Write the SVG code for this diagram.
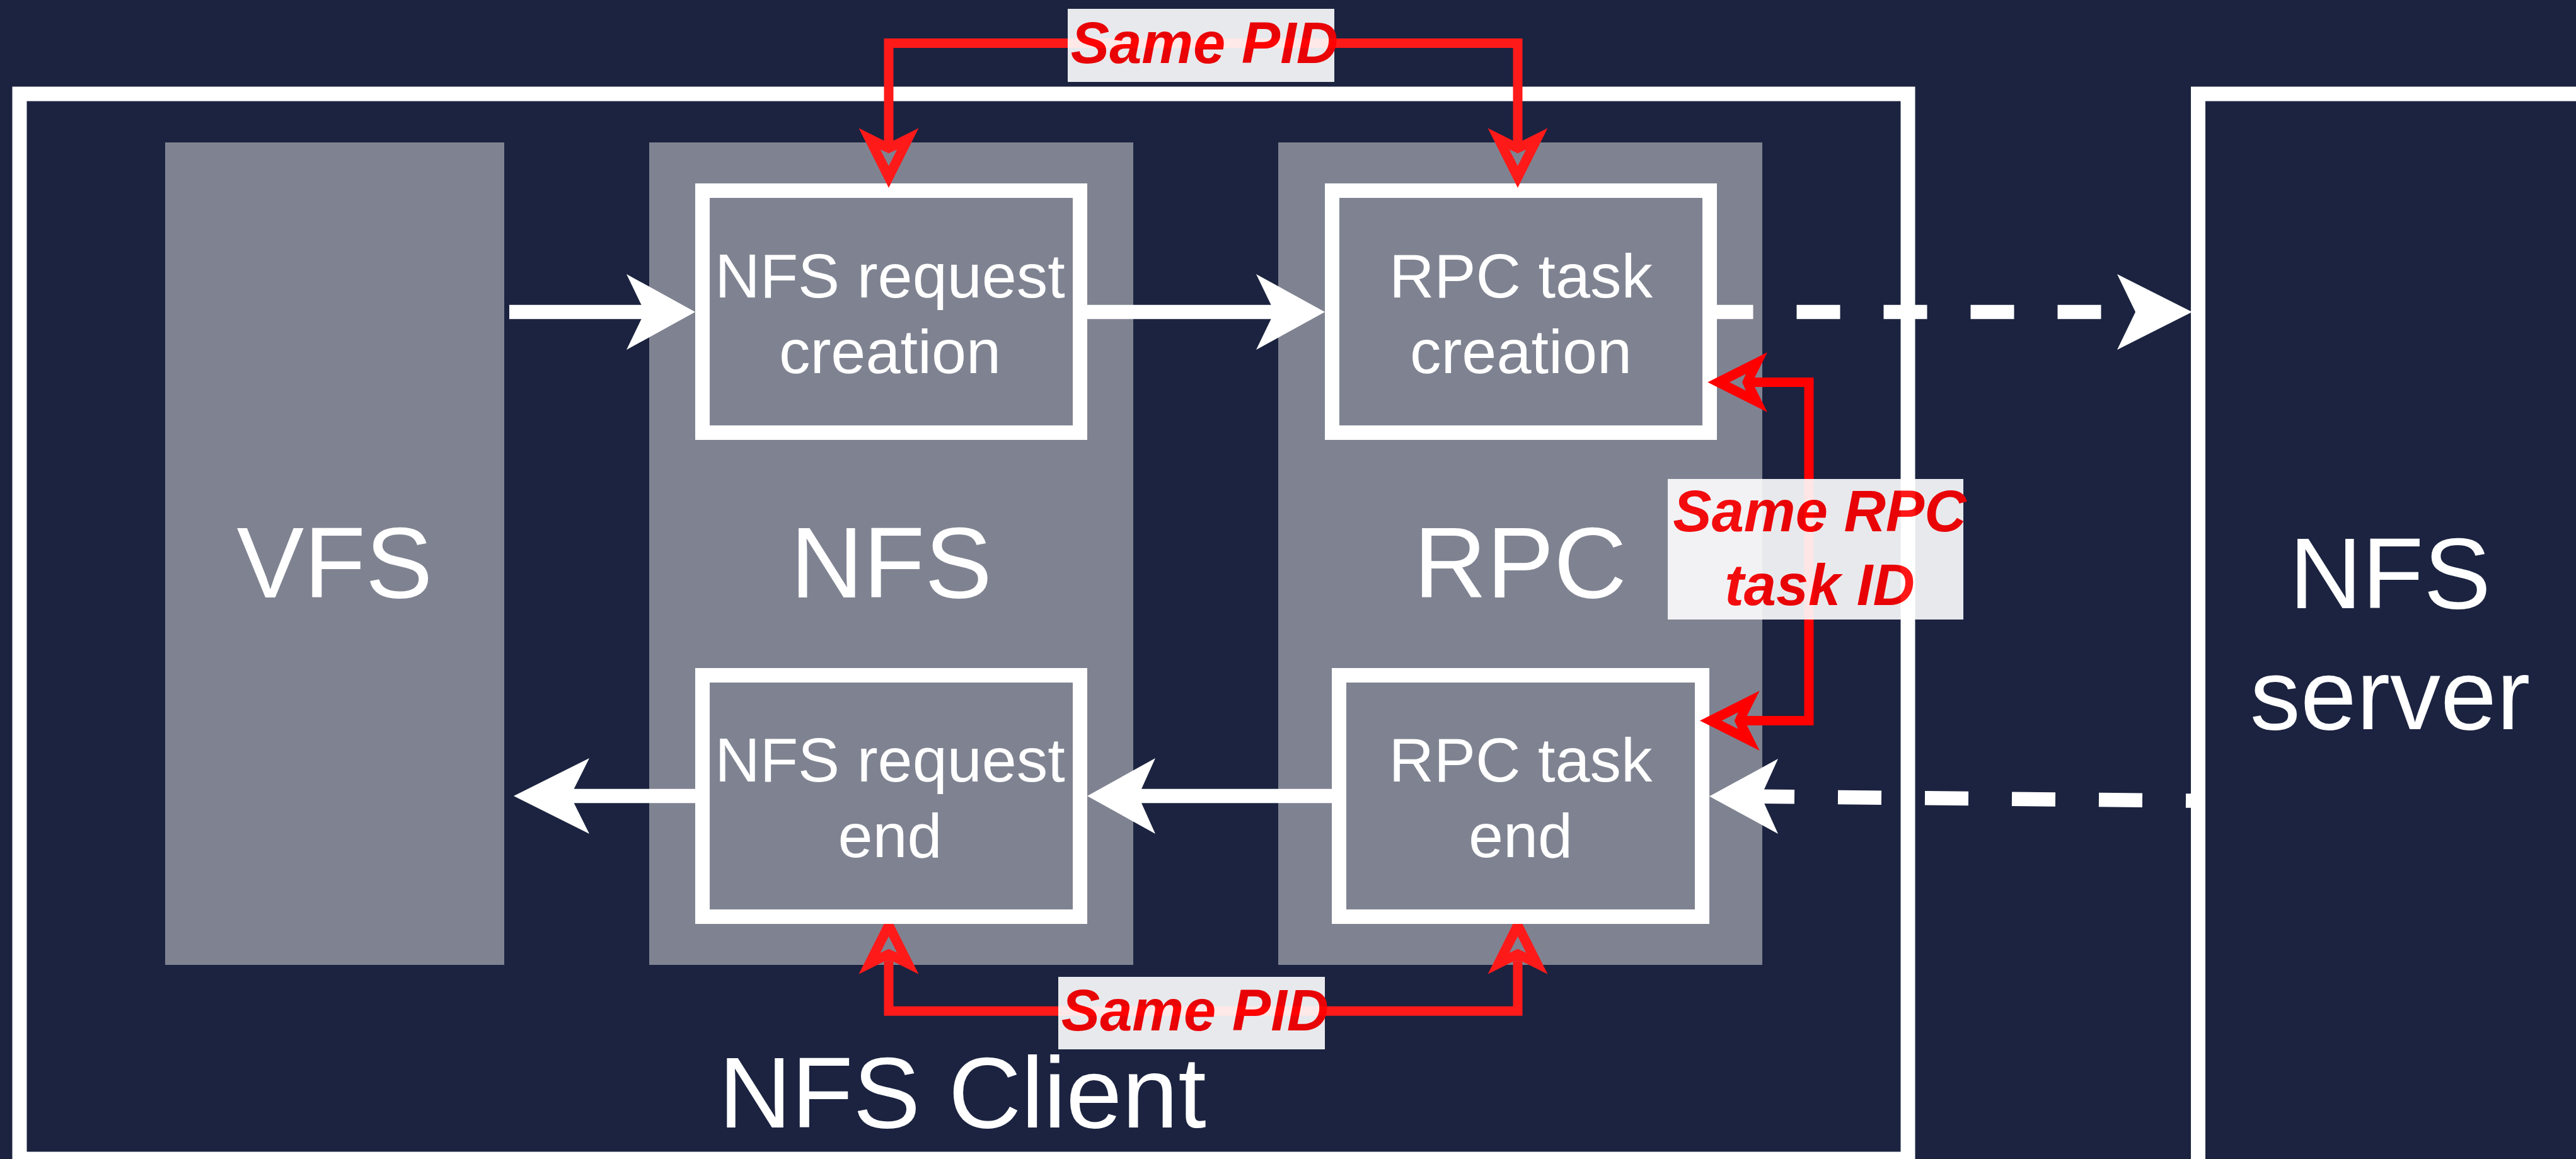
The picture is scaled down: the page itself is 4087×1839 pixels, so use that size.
<svg xmlns="http://www.w3.org/2000/svg" xmlns:xlink="http://www.w3.org/1999/xlink" width="4087" height="1839" viewBox="0 0 4087 1839">
  <style>
    .frame { fill: none; stroke: #ffffff; stroke-width: 23; }
    .layer { fill: #7f8391; }
    .big { font-family: "Liberation Sans", Arial, Helvetica, sans-serif; font-size: 160px; fill: #ffffff; text-anchor: middle; }
    .step { font-family: "Liberation Sans", Arial, Helvetica, sans-serif; font-size: 99px; fill: #ffffff; text-anchor: middle; }
    .flow { fill: none; stroke: #ffffff; stroke-width: 22.5; }
    .dash { stroke-dasharray: 69 69; }
    .head { fill: #ffffff; }
    .link { fill: none; stroke-width: 15; stroke-linejoin: miter; stroke-miterlimit: 10; }
    .tag { opacity: 0.9; }
    .tag rect { fill: #ffffff; }
    .tag text { font-family: "Liberation Sans", Arial, Helvetica, sans-serif; font-size: 92px; font-weight: bold; font-style: italic; fill: #ff0000; text-anchor: middle; }
  </style>
  <defs>
    <!-- open "classic" arrowhead, tip at origin, pointing +x -->
    <path id="openHead" fill-rule="evenodd" d="M0,0 L-94.7,-47.5 L-74.7,-7.5 L-74.7,7.5 L-94.7,47.5 Z M-34.7,0 L-60.7,-13.3 L-54.7,0 L-60.7,13.3 Z"/>
  </defs>

  <rect x="0" y="0" width="4087" height="1839" fill="#1b2340"/>

  <!-- client and server containers -->
  <g id="nfs-client">
    <rect class="frame" x="31" y="149" width="2996" height="1690"/>
    <text class="big" x="1527" y="1789">NFS Client</text>
  </g>
  <g id="nfs-server">
    <rect class="frame" x="3487.5" y="149" width="800" height="1800"/>
    <text class="big" x="3792" y="965">NFS</text>
    <text class="big" x="3792" y="1157">server</text>
  </g>

  <!-- kernel layers -->
  <g id="vfs">
    <rect class="layer" x="262" y="226" width="538" height="1305"/>
    <text class="big" x="531" y="948">VFS</text>
  </g>
  <g id="nfs">
    <rect class="layer" x="1030" y="226" width="768" height="1305"/>
    <text class="big" x="1414" y="948">NFS</text>
  </g>
  <g id="rpc">
    <rect class="layer" x="2028" y="226" width="768" height="1305"/>
    <text class="big" x="2412" y="948">RPC</text>
  </g>

  <!-- bottom "Same PID" link sits under the step boxes -->
  <g id="pid-link-bottom">
    <path class="link" stroke="#ff1a1a" d="M1410,1526 V1604.3 H2408 V1526"/>
    <use xlink:href="#openHead" fill="#ff1a1a" transform="translate(1410,1451) rotate(-90)"/>
    <use xlink:href="#openHead" fill="#ff1a1a" transform="translate(2408,1451) rotate(-90)"/>
  </g>

  <!-- processing steps -->
  <g id="nfs-request-creation">
    <rect class="frame" x="1114.5" y="302.5" width="599" height="384"/>
    <text class="step" x="1412" y="472">NFS request</text>
    <text class="step" x="1412" y="592">creation</text>
  </g>
  <g id="rpc-task-creation">
    <rect class="frame" x="2113.5" y="302.5" width="599" height="384"/>
    <text class="step" x="2413" y="472">RPC task</text>
    <text class="step" x="2413" y="592">creation</text>
  </g>
  <g id="nfs-request-end">
    <rect class="frame" x="1114.5" y="1071.5" width="599" height="383"/>
    <text class="step" x="1412" y="1240">NFS request</text>
    <text class="step" x="1412" y="1360">end</text>
  </g>
  <g id="rpc-task-end">
    <rect class="frame" x="2124.5" y="1071.5" width="576" height="383"/>
    <text class="step" x="2412.5" y="1240">RPC task</text>
    <text class="step" x="2412.5" y="1360">end</text>
  </g>

  <!-- request / reply flow -->
  <g id="connectors">
    <path class="flow" d="M808,495 H1030"/>
    <polygon class="head" points="1103,495 994,435 1023,495 994,555"/>

    <path class="flow" d="M1725,495 H2030"/>
    <polygon class="head" points="2102,495 1993,435 2022,495 1993,555"/>

    <path class="flow dash" d="M2712.5,495 H3392"/>
    <polygon class="head" points="3478,495 3359,435 3388,495 3359,555"/>

    <path class="flow dash" d="M2778,1263.6 L3478,1270.6"/>
    <polygon class="head" points="2712,1263.5 2821,1204 2794,1263.5 2821,1323"/>

    <path class="flow" d="M2113,1263 H1800"/>
    <polygon class="head" points="1725,1263 1833,1203 1806,1263 1833,1323"/>

    <path class="flow" d="M1103,1263 H900"/>
    <polygon class="head" points="815,1263 935,1203 905,1263 935,1323"/>

    <!-- top "Same PID" link -->
    <g id="pid-link-top">
      <path class="link" stroke="#ff1a1a" d="M1410,226 V68.5 H2408 V226"/>
      <use xlink:href="#openHead" fill="#ff1a1a" transform="translate(1410,298) rotate(90)"/>
      <use xlink:href="#openHead" fill="#ff1a1a" transform="translate(2408,298) rotate(90)"/>
    </g>

    <!-- "Same RPC task ID" link -->
    <g id="task-id-link">
      <path class="link" stroke="#ff0000" d="M2782,606.5 H2870 V1143.5 H2770"/>
      <use xlink:href="#openHead" fill="#ff0000" transform="translate(2709.3,606.5) rotate(180)"/>
      <use xlink:href="#openHead" fill="#ff0000" transform="translate(2697,1143.5) rotate(180)"/>
    </g>
  </g>

  <!-- link labels -->
  <g id="label-pid-top" class="tag">
    <rect x="1694" y="14" width="423" height="116"/>
    <text x="1911" y="100">Same PID</text>
  </g>
  <g id="label-pid-bottom" class="tag">
    <rect x="1679" y="1550" width="423" height="115"/>
    <text x="1896" y="1635">Same PID</text>
  </g>
  <g id="label-task-id" class="tag">
    <rect x="2646" y="760" width="469" height="223"/>
    <text x="2887" y="843">Same RPC</text>
    <text x="2887" y="960">task ID</text>
  </g>
</svg>
